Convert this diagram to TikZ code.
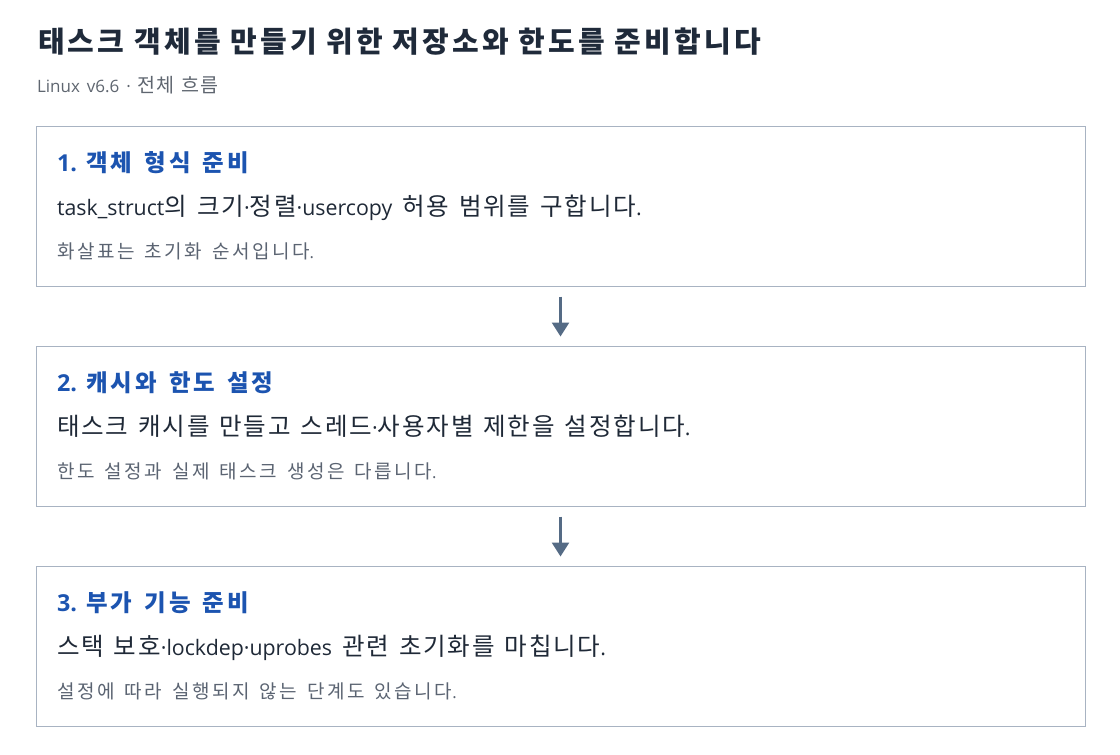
\documentclass[tikz,border=0pt]{standalone}
\usepackage{fontspec}
\usetikzlibrary{arrows.meta}
\setmainfont{Open Sans}
\newfontfamily\latinfont{Open Sans}
\newfontfamily\krfont{Noto Sans CJK KR}[Scale=1.15]
\newdimen\krgap
\krgap=0pt
\XeTeXinterchartokenstate=1
\newXeTeXintercharclass\KRclass
\count255="AC00
\loop\ifnum\count255<"D7A4 \XeTeXcharclass\count255=\KRclass \advance\count255 by 1 \repeat
\XeTeXinterchartoks 0 \KRclass = {\krfont}
\XeTeXinterchartoks 4095 \KRclass = {\krfont}
\XeTeXinterchartoks \KRclass 0 = {\latinfont}
\XeTeXinterchartoks 4095 0 = {\latinfont}
\XeTeXinterchartoks \KRclass \KRclass = {\kern\krgap}
\newcommand\gaptitle{\krgap=2.5pt\relax\spaceskip=7.1pt\relax}
\newcommand\gapsub{\krgap=0.75pt\relax\spaceskip=5.25pt\relax}
\newcommand\gaphead{\krgap=2.25pt\relax\spaceskip=9pt\relax}
\newcommand\gapbody{\krgap=1.35pt\relax\spaceskip=7.5pt\relax}
\newcommand\gapnote{\krgap=1.9pt\relax\spaceskip=7.5pt\relax}
\newcommand\hnum[1]{{\fontsize{17.5pt}{19pt}\selectfont\spaceskip=5.5pt\relax #1 }}
\definecolor{titlec}{HTML}{1F2A3A}
\definecolor{subc}{HTML}{5F6670}
\definecolor{headc}{HTML}{1C54B0}
\definecolor{bodyc}{HTML}{1F2937}
\definecolor{notec}{HTML}{5B6472}
\definecolor{borderc}{HTML}{A8B3C2}
\definecolor{arrc}{HTML}{556B85}
\tikzset{
  txt/.style={anchor=base west, inner sep=0pt, outer sep=0pt},
  titletxt/.style={txt, text=titlec, font=\fontsize{18.9pt}{25pt}\selectfont\bfseries\gaptitle},
  subtxt/.style={txt, text=subc, font=\fontsize{12.75pt}{15pt}\selectfont\gapsub},
  headtxt/.style={txt, text=headc, font=\fontsize{15.3pt}{19pt}\selectfont\bfseries\gaphead},
  bodytxt/.style={txt, text=bodyc, font=\fontsize{16pt}{20pt}\selectfont\gapbody},
  notetxt/.style={txt, text=notec, font=\fontsize{12.4pt}{15pt}\selectfont\gapnote},
  stagebox/.style={draw=borderc, line width=0.75pt, fill=white, rectangle, inner sep=0pt,
    minimum width=786.75pt, minimum height=120pt},
  flowarrow/.style={draw=arrc, line width=2pt, -{Triangle[width=12.75pt,length=10.5pt]},
    shorten <=7.5pt, shorten >=6.75pt}
}
\begin{document}
\begin{tikzpicture}[x=0.75pt,y=-0.75pt]
\fill[white] (0,0) rectangle (1120,754);
\useasboundingbox (0,0) rectangle (1120,754);
\node[titletxt] (title) at (38,52) {태스크 객체를 만들기 위한 저장소와 한도를 준비합니다};
\node[subtxt] (sub) at (37,92) {Linux v6.6 · 전체 흐름};

\node[stagebox] (b1) at (560.5,206) {};
\node[stagebox] (b2) at (560.5,426) {};
\node[stagebox] (b3) at (560.5,646) {};

\node[headtxt] (h1) at (57,171) {\hnum{1.}객체 형식 준비};
\node[bodytxt] (t1) at (57,215) {task\_struct의 크기·정렬·usercopy 허용 범위를 구합니다.};
\node[notetxt] (n1) at (57,258) {화살표는 초기화 순서입니다.};

\node[headtxt] (h2) at (57,391) {\hnum{2.}캐시와 한도 설정};
\node[bodytxt] (t2) at (57,435) {태스크 캐시를 만들고 스레드·사용자별 제한을 설정합니다.};
\node[notetxt] (n2) at (57,478) {한도 설정과 실제 태스크 생성은 다릅니다.};

\node[headtxt] (h3) at (57,611) {\hnum{3.}부가 기능 준비};
\node[bodytxt] (t3) at (57,655) {스택 보호·lockdep·uprobes 관련 초기화를 마칩니다.};
\node[notetxt] (n3) at (57,698) {설정에 따라 실행되지 않는 단계도 있습니다.};

\draw[flowarrow] (b1) -- (b2);
\draw[flowarrow] (b2) -- (b3);
\end{tikzpicture}
\end{document}
